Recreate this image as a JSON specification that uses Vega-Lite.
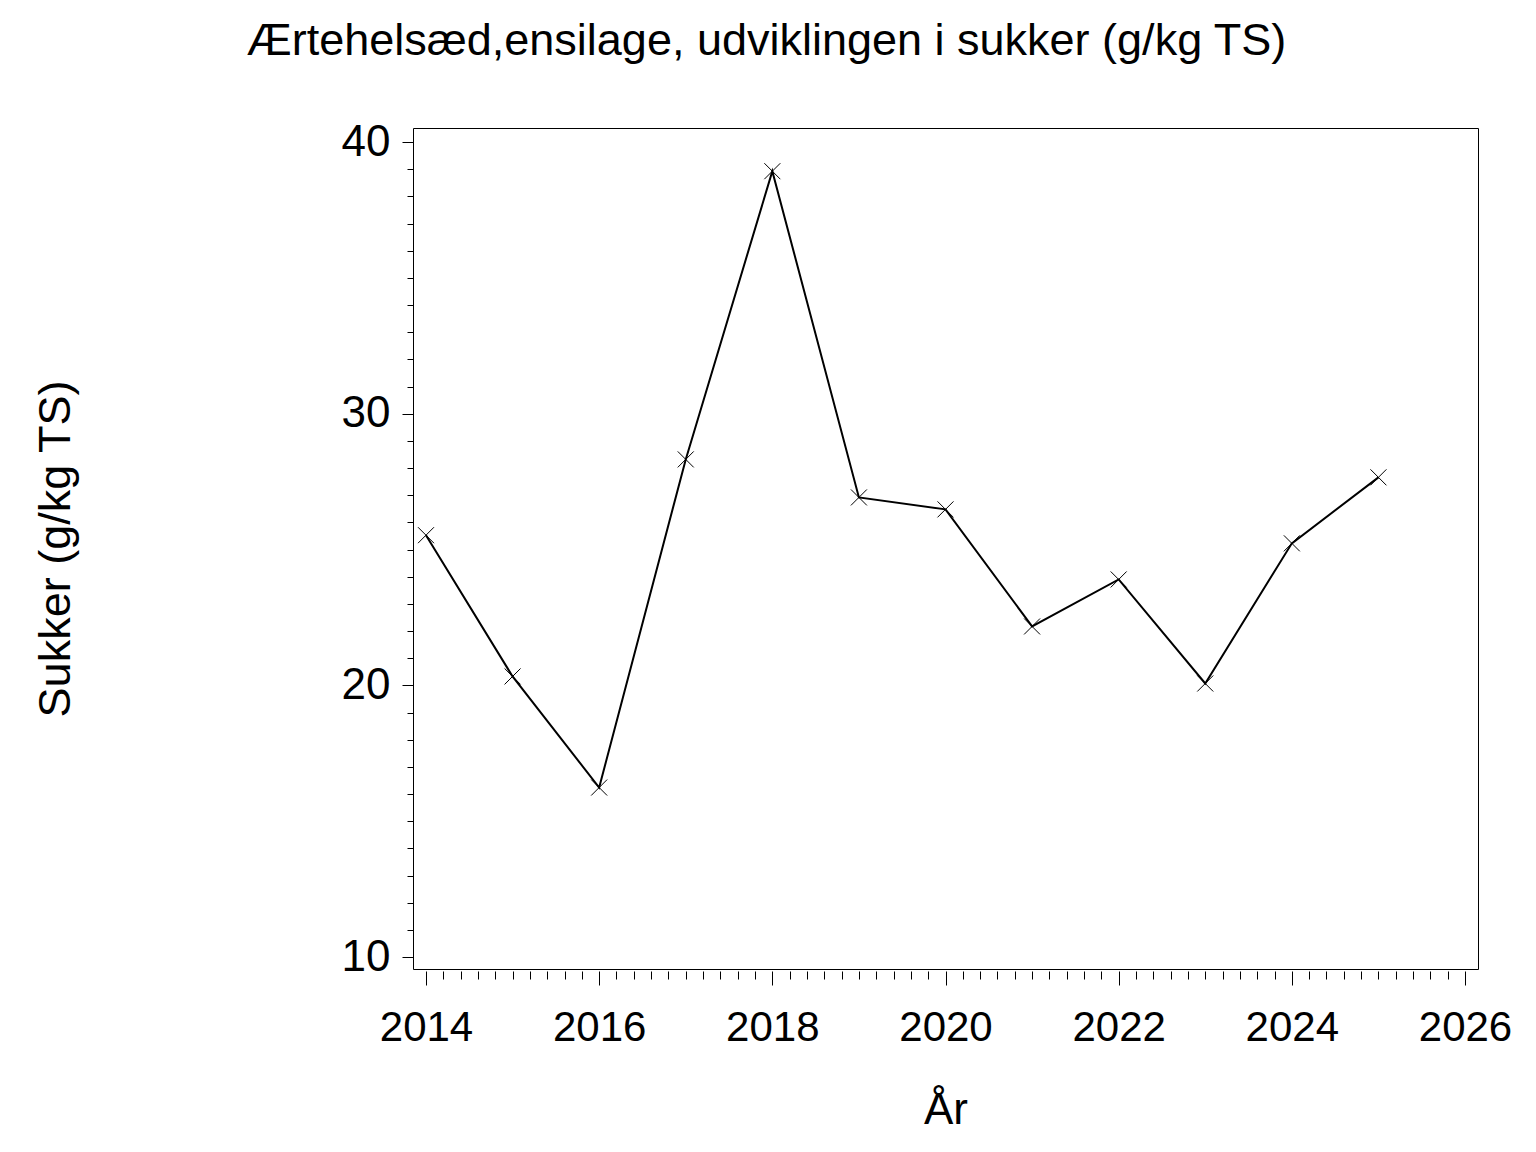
{
  "$schema": "https://vega.github.io/schema/vega-lite/v6.json",
  "autosize": {"type": "none"},
  "padding": {"left": 413, "top": 128, "right": 58, "bottom": 183},
  "width": 1065,
  "height": 841,
  "background": "white",
  "config": {
    "view": {"stroke": "black", "strokeWidth": 1},
    "font": "Liberation Sans",
    "axis": {"grid": false, "domain": false, "tickColor": "black", "labelColor": "black", "titleColor": "black", "labelFont": "Liberation Sans", "titleFont": "Liberation Sans", "titleFontWeight": "normal"}
  },
  "title": {
    "text": "Ærtehelsæd,ensilage, udviklingen i sukker (g/kg TS)",
    "fontSize": 45,
    "fontWeight": "normal",
    "font": "Liberation Sans",
    "color": "black",
    "anchor": "middle",
    "dx": -179,
    "offset": 56
  },
  "data": {
    "values": [
      {"year": 2014, "sukker": 25.53},
      {"year": 2015, "sukker": 20.33},
      {"year": 2016, "sukker": 16.24},
      {"year": 2017, "sukker": 28.32},
      {"year": 2018, "sukker": 38.93},
      {"year": 2019, "sukker": 26.92},
      {"year": 2020, "sukker": 26.48},
      {"year": 2021, "sukker": 22.17},
      {"year": 2022, "sukker": 23.9},
      {"year": 2023, "sukker": 20.07},
      {"year": 2024, "sukker": 25.23},
      {"year": 2025, "sukker": 27.66}
    ]
  },
  "resolve": {"axis": {"x": "independent", "y": "independent"}},
  "layer": [
    {
      "mark": {"type": "line", "color": "black", "strokeWidth": 2},
      "encoding": {
        "x": {"field": "year", "type": "quantitative", "scale": {"domain": [2013.85, 2026.15], "nice": false, "zero": false},
          "axis": {"orient": "bottom", "title": "År", "values": [2014, 2016, 2018, 2020, 2022, 2024, 2026], "format": "d", "labelFontSize": 42, "tickSize": 14, "offset": 2, "labelPadding": 22, "titleFontSize": 44, "titleY": 139, "titleBaseline": "middle", "labelFlush": false}},
        "y": {"field": "sukker", "type": "quantitative", "scale": {"domain": [9.56, 40.52], "nice": false, "zero": false},
          "axis": {"orient": "left", "title": "Sukker (g/kg TS)", "values": [10, 20, 30, 40], "format": "d", "labelFontSize": 44, "tickSize": 11, "labelPadding": 12, "titleFontSize": 45, "titleX": -358, "titleBaseline": "middle", "labelFlush": false}}
      }
    },
    {
      "mark": {"type": "point", "shape": "M-1,-1L1,1M-1,1L1,-1", "filled": false, "stroke": "black", "strokeWidth": 1, "size": 256, "opacity": 1},
      "encoding": {
        "x": {"field": "year", "type": "quantitative",
          "axis": {"orient": "bottom", "title": null, "labels": false, "tickSize": 8, "offset": 2, "values": [2014.2, 2014.4, 2014.6, 2014.8, 2015, 2015.2, 2015.4, 2015.6, 2015.8, 2016.2, 2016.4, 2016.6, 2016.8, 2017, 2017.2, 2017.4, 2017.6, 2017.8, 2018.2, 2018.4, 2018.6, 2018.8, 2019, 2019.2, 2019.4, 2019.6, 2019.8, 2020.2, 2020.4, 2020.6, 2020.8, 2021, 2021.2, 2021.4, 2021.6, 2021.8, 2022.2, 2022.4, 2022.6, 2022.8, 2023, 2023.2, 2023.4, 2023.6, 2023.8, 2024.2, 2024.4, 2024.6, 2024.8, 2025, 2025.2, 2025.4, 2025.6, 2025.8]}},
        "y": {"field": "sukker", "type": "quantitative",
          "axis": {"orient": "left", "title": null, "labels": false, "tickSize": 6, "values": [11, 12, 13, 14, 15, 16, 17, 18, 19, 21, 22, 23, 24, 25, 26, 27, 28, 29, 31, 32, 33, 34, 35, 36, 37, 38, 39]}}
      }
    }
  ]
}
